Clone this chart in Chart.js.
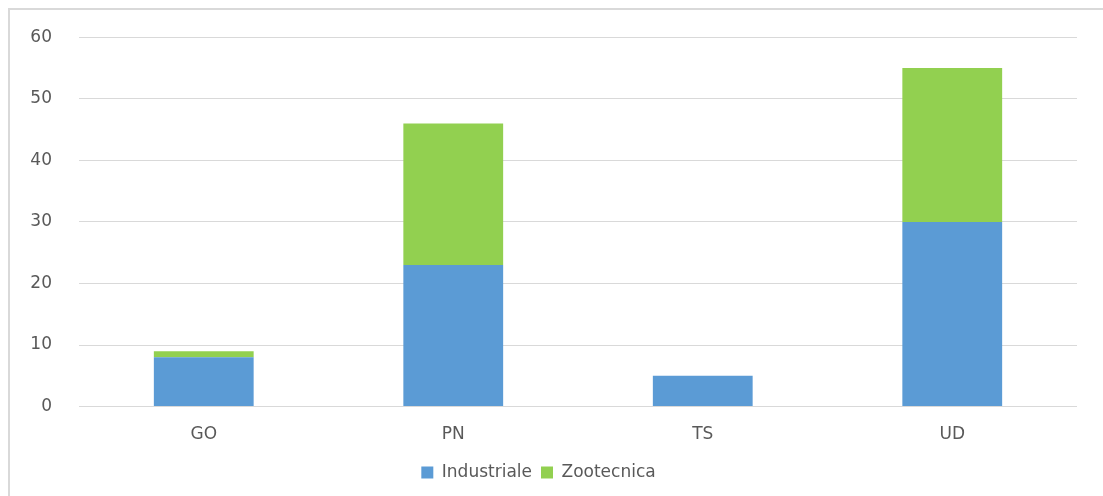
<!DOCTYPE html>
<html>
<head>
<meta charset="utf-8">
<script src="https://cdn.jsdelivr.net/npm/chart.js@4"></script>
<style>
  html, body { margin: 0; padding: 0; background: #fff; }
  #wrap { position: relative; width: 1103px; height: 496px; }
  #frame { position: absolute; left: 8px; top: 8px; width: 1200px; height: 600px;
           border: 2px solid #d9d9d9; pointer-events: none; }
</style>
</head>
<body>
<div id="wrap">
  <canvas id="chart" width="1103" height="496"></canvas>
  <div id="frame"></div>
</div>
<script>
const categories = ['GO', 'PN', 'TS', 'UD'];
const industriale = [8, 23, 5, 30];
const zootecnica = [1, 23, 0, 25];
const yTicks = [0, 10, 20, 30, 40, 50, 60];

Chart.defaults.font.family = '"DejaVu Sans", sans-serif';
Chart.defaults.color = '#595959';

const ctx = document.getElementById('chart');
new Chart(ctx, {
    type: 'bar',
    data: {
        labels: categories,
        datasets: [{
            label: 'Industriale',
            data: industriale,
            backgroundColor: '#5b9bd5',
            categoryPercentage: 0.4,
            barPercentage: 1
        }, {
            label: 'Zootecnica',
            data: zootecnica,
            backgroundColor: '#92d050',
            categoryPercentage: 0.4,
            barPercentage: 1
        }]
    },
    options: {
        responsive: false,
        animation: false,
        layout: { padding: { left: 0, right: 26, top: 14, bottom: 5 } },
        scales: {
            x: {
                stacked: true,
                grid: { display: false },
                border: { display: false },
                ticks: { font: { size: 17 }, padding: 10 }
            },
            y: {
                stacked: true,
                min: 0,
                max: 60,
                afterFit: (axis) => { axis.width = 79; },
                afterBuildTicks: (axis) => { axis.ticks = yTicks.map(v => ({ value: v })); },
                grid: { color: '#d9d9d9', lineWidth: 1, drawTicks: false },
                border: { display: false },
                ticks: { font: { size: 17 }, padding: 27 }
            }
        },
        plugins: {
            legend: {
                position: 'bottom',
                labels: { boxWidth: 12, boxHeight: 12, font: { size: 17 }, padding: 9 }
            },
            tooltip: { enabled: false }
        }
    }
});
</script>
</body>
</html>
